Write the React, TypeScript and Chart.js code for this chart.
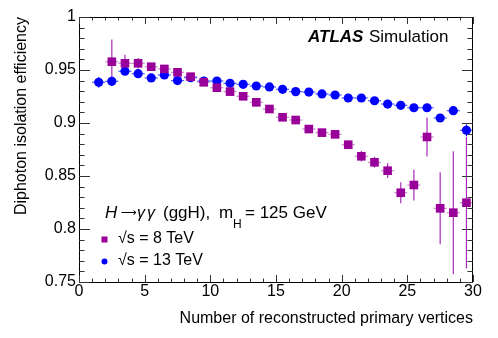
import React, { useEffect, useRef } from 'react';
import { Chart, registerables } from 'chart.js';

Chart.register(...registerables);

// ---------- data ----------
const vertices8 = [2.5, 3.5, 4.5, 5.5, 6.5, 7.5, 8.5, 9.5, 10.5, 11.5, 12.5, 13.5, 14.5, 15.5, 16.5, 17.5, 18.5, 19.5, 20.5, 21.5, 22.5, 23.5, 24.5, 25.5, 26.5, 27.5, 28.5, 29.5];
const eff8 = [0.9578, 0.9563, 0.9563, 0.9531, 0.951, 0.9478, 0.9437, 0.9384, 0.9333, 0.9296, 0.9252, 0.9195, 0.9132, 0.9054, 0.9028, 0.8943, 0.8909, 0.8893, 0.8795, 0.8686, 0.8629, 0.855, 0.8342, 0.8415, 0.8868, 0.8195, 0.8154, 0.8248];
const err8 = [0.021, 0.008, 0.005, 0.003, 0.003, 0.003, 0.003, 0.003, 0.003, 0.003, 0.003, 0.003, 0.003, 0.003, 0.003, 0.003, 0.003, 0.003, 0.004, 0.005, 0.005, 0.007, 0.0099, 0.0145, 0.0185, 0.034, 0.058, 0.062];

const vertices13 = [1.5, 2.5, 3.5, 4.5, 5.5, 6.5, 7.5, 8.5, 9.5, 10.5, 11.5, 12.5, 13.5, 14.5, 15.5, 16.5, 17.5, 18.5, 19.5, 20.5, 21.5, 22.5, 23.5, 24.5, 25.5, 26.5, 27.5, 28.5, 29.5];
const eff13 = [0.9384, 0.9393, 0.9488, 0.9465, 0.9425, 0.9453, 0.940, 0.9427, 0.9396, 0.9396, 0.9374, 0.9365, 0.9349, 0.934, 0.9318, 0.9296, 0.9292, 0.9274, 0.9264, 0.9236, 0.9236, 0.921, 0.9179, 0.9167, 0.9144, 0.9144, 0.9047, 0.9116, 0.8931];
const err13 = [0.005, 0.004, 0.002, 0.002, 0.002, 0.002, 0.002, 0.002, 0.002, 0.002, 0.002, 0.002, 0.002, 0.002, 0.002, 0.002, 0.002, 0.002, 0.002, 0.002, 0.002, 0.002, 0.002, 0.002, 0.003, 0.003, 0.003, 0.004, 0.0055];

const binHalfWidth = 0.5;

const xTickValues = [0, 5, 10, 15, 20, 25, 30];
const xTickLabels = ['0', '5', '10', '15', '20', '25', '30'];
const yTickValues = [0.75, 0.8, 0.85, 0.9, 0.95, 1];
const yTickLabels = ['0.75', '0.8', '0.85', '0.9', '0.95', '1'];
const xMinorStep = 1;
const yMinorStep = 0.01;

const seriesLabels = ['√s = 8 TeV', '√s = 13 TeV'];
const xTitle = 'Number of reconstructed primary vertices';
const yTitle = 'Diphoton isolation efficiency';
const experimentLabel = 'ATLAS';
const statusLabel = 'Simulation';

const FONT = "'Liberation Sans', Arial, Helvetica, sans-serif";
const PURPLE = '#990099';
const PURPLE_ERR = '#a82ab8';
const BLUE = '#0000ff';

const decorations = {
  id: 'decorations',
  beforeDatasetsDraw(chart: any) {
    const { ctx, chartArea, scales } = chart;
    const x = scales.x, y = scales.y;
    const drawErr = (xs: number[], ys: number[], es: number[], hColor: string, vColor: string) => {
      xs.forEach((xv, i) => {
        const px = x.getPixelForValue(xv);
        const py = y.getPixelForValue(ys[i]);
        ctx.save();
        ctx.beginPath();
        ctx.rect(chartArea.left, chartArea.top, chartArea.right - chartArea.left, chartArea.bottom - chartArea.top);
        ctx.clip();
        ctx.lineWidth = 1.2;
        ctx.strokeStyle = hColor;
        ctx.beginPath();
        ctx.moveTo(x.getPixelForValue(xv - binHalfWidth), py);
        ctx.lineTo(x.getPixelForValue(xv + binHalfWidth), py);
        ctx.stroke();
        ctx.strokeStyle = vColor;
        ctx.lineWidth = 1.2;
        ctx.beginPath();
        ctx.moveTo(px, y.getPixelForValue(ys[i] + es[i]));
        ctx.lineTo(px, y.getPixelForValue(ys[i] - es[i]));
        ctx.stroke();
        ctx.restore();
      });
    };
    drawErr(vertices13, eff13, err13, 'rgba(40,60,255,0.8)', BLUE);
    drawErr(vertices8, eff8, err8, 'rgba(170,60,180,0.6)', PURPLE_ERR);
  },
  afterDraw(chart: any) {
    const { ctx, chartArea, scales } = chart;
    const x = scales.x, y = scales.y;
    const { left, right, top, bottom } = chartArea;
    ctx.save();
    // frame
    ctx.strokeStyle = '#000';
    ctx.lineWidth = 1;
    ctx.strokeRect(Math.round(left) + 0.5, Math.round(top) + 0.5, Math.round(right - left) - 1, Math.round(bottom - top));
    // x ticks
    ctx.strokeStyle = '#333';
    for (let v = 0; v <= 30 + 1e-9; v += xMinorStep) {
      const major = Math.abs(v / 5 - Math.round(v / 5)) < 1e-6;
      const len = major ? 7 : 3.5;
      const px = Math.round(x.getPixelForValue(v)) + 0.5;
      ctx.beginPath();
      ctx.moveTo(px, bottom); ctx.lineTo(px, bottom - len);
      ctx.moveTo(px, top); ctx.lineTo(px, top + len);
      ctx.stroke();
    }
    // y ticks
    for (let i = 75; i <= 100; i++) {
      const v = i * yMinorStep;
      const major = i % 5 === 0;
      const len = major ? 11 : 5.5;
      const py = Math.round(y.getPixelForValue(v)) + 0.5;
      ctx.beginPath();
      ctx.moveTo(left, py); ctx.lineTo(left + len, py);
      ctx.moveTo(right, py); ctx.lineTo(right - len, py);
      ctx.stroke();
    }

    // ATLAS label
    ctx.fillStyle = '#000';
    ctx.textBaseline = 'alphabetic';
    ctx.textAlign = 'left';
    ctx.font = `italic bold 17px ${FONT}`;
    ctx.fillText(experimentLabel, 308, 42);
    ctx.font = `17px ${FONT}`;
    ctx.fillText(statusLabel, 369, 42);

    // legend header
    ctx.font = `italic 17px ${FONT}`;
    ctx.fillText('H', 105, 218);
    ctx.font = `11px 'DejaVu Sans', ${FONT}`;
    ctx.fillText('⟶', 121, 216);
    ctx.font = `italic 16px ${FONT}`;
    ctx.fillText('γ', 137, 218);
    ctx.fillText('γ', 147, 218);
    ctx.font = `17px ${FONT}`;
    ctx.fillText('(ggH),', 163, 218);
    ctx.fillText('m', 219, 218);
    ctx.font = `12px ${FONT}`;
    ctx.fillText('H', 233, 228);
    ctx.font = `17px ${FONT}`;
    ctx.fillText('= 125 GeV', 245, 218);

    // legend entries
    ctx.font = `16px ${FONT}`;
    ctx.fillStyle = PURPLE;
    ctx.fillRect(101.5, 236.5, 6, 6);
    ctx.fillStyle = '#000';
    ctx.fillText(seriesLabels[0], 118, 243);
    ctx.fillStyle = BLUE;
    ctx.beginPath();
    ctx.arc(104.5, 261.5, 3, 0, Math.PI * 2);
    ctx.fill();
    ctx.fillStyle = '#000';
    ctx.fillText(seriesLabels[1], 118, 265);
    ctx.restore();
  },
};

export default function App() {
  const ref = useRef<HTMLCanvasElement | null>(null);
  useEffect(() => {
    if (!ref.current) return;
    Chart.defaults.font.family = FONT;
    Chart.defaults.color = '#000';
    const chart = new Chart(ref.current, {
      type: 'scatter',
      data: {
        datasets: [
          {
            label: seriesLabels[0],
            data: vertices8.map((v, i) => ({ x: v, y: eff8[i] })),
            pointStyle: 'rect',
            pointRadius: 6.1,
            backgroundColor: PURPLE,
            borderWidth: 0,
            showLine: false,
          },
          {
            label: seriesLabels[1],
            data: vertices13.map((v, i) => ({ x: v, y: eff13[i] })),
            pointStyle: 'circle',
            pointRadius: 4.6,
            backgroundColor: BLUE,
            borderWidth: 0,
            showLine: false,
          },
        ],
      },
      options: {
        responsive: false,
        animation: false,
        devicePixelRatio: 1,
        layout: { padding: { top: 17, right: 25, left: 0, bottom: 0 } },
        plugins: { legend: { display: false }, tooltip: { enabled: false } },
        scales: {
          x: {
            type: 'linear',
            min: 0,
            max: 30,
            afterBuildTicks: (s: any) => { s.ticks = xTickValues.map((v) => ({ value: v })); },
            afterFit: (s: any) => { s.height = 56; },
            grid: { display: false, drawTicks: false },
            border: { display: false },
            ticks: {
              autoSkip: false,
              maxRotation: 0,
              padding: 2,
              color: '#000',
              font: { family: FONT, size: 16, lineHeight: 1 },
              callback: (_v: any, i: number) => xTickLabels[i],
            },
            title: {
              display: true,
              text: xTitle,
              align: 'end',
              color: '#000',
              font: { family: FONT, size: 16 },
              padding: { top: 0, bottom: 10 },
            },
          },
          y: {
            type: 'linear',
            min: 0.75,
            max: 1,
            afterBuildTicks: (s: any) => { s.ticks = yTickValues.map((v) => ({ value: v })); },
            afterFit: (s: any) => { s.width = 79; },
            grid: { display: false, drawTicks: false },
            border: { display: false },
            ticks: {
              autoSkip: false,
              padding: 3,
              color: '#000',
              font: { family: FONT, size: 16, lineHeight: 1 },
              callback: (_v: any, i: number) => yTickLabels[i],
            },
            title: {
              display: true,
              text: yTitle,
              align: 'end',
              color: '#000',
              font: { family: FONT, size: 16 },
              padding: { top: 12, bottom: 0 },
            },
          },
        },
      } as any,
      plugins: [decorations],
    });
    return () => chart.destroy();
  }, []);
  return (
    <div style={{ position: 'absolute', left: 0, top: 0, width: 498, height: 338, background: '#fff' }}>
      <canvas ref={ref} width={498} height={338} />
    </div>
  );
}
